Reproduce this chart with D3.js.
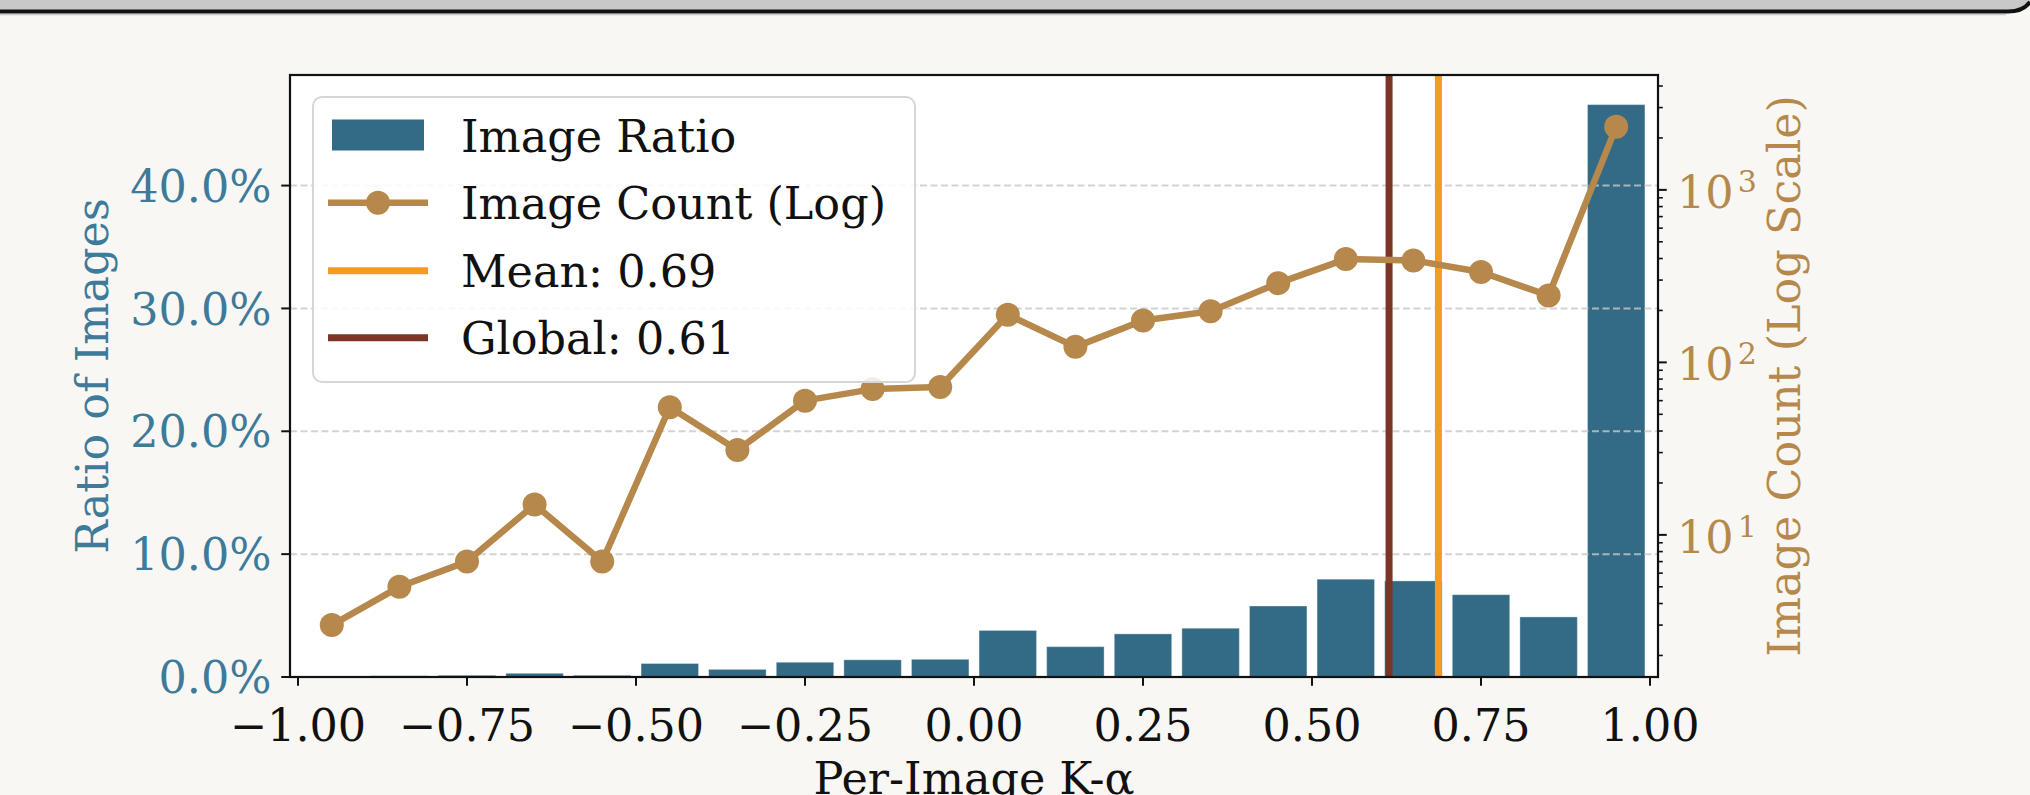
<!DOCTYPE html>
<html><head><meta charset="utf-8">
<script src="https://cdn.jsdelivr.net/npm/d3@7"></script>
<style>
html,body{margin:0;padding:0;background:#f8f7f3;overflow:hidden;width:2030px;height:795px;}
svg{display:block;}
text{font-family:"DejaVu Serif",serif;}
</style></head><body>
<svg id="chart" width="2030" height="795"></svg>
<script>
// ---- data ----
const binCenters = [-0.95,-0.85,-0.75,-0.65,-0.55,-0.45,-0.35,-0.25,-0.15,-0.05,0.05,0.15,0.25,0.35,0.45,0.55,0.65,0.75,0.85,0.95];
const imageRatio = [0.0006,0.0010,0.0014,0.0030,0.0014,0.0110,0.0062,0.0120,0.0140,0.0144,0.0379,0.0247,0.0351,0.0397,0.0578,0.0796,0.0782,0.0670,0.0489,0.4659];
const imageCount = [3,5,7,15,7,55,31,60,70,72,189,123,175,198,288,397,390,334,244,2323];
const meanK = 0.687;
const globalK = 0.614;
const xTickValues = [-1,-0.75,-0.5,-0.25,0,0.25,0.5,0.75,1];
const ratioTickValues = [0,0.1,0.2,0.3,0.4];
const countTickValues = [10,100,1000];
const legendLabels = ["Image Ratio","Image Count (Log)","Mean: " + meanK.toFixed(2),"Global: " + globalK.toFixed(2)];

// ---- styling ----
const C = {bar:"#336b87", barText:"#3e7a99", count:"#b6884b", mean:"#f59b25", global:"#7a3526", bg:"#f8f7f3"};
const FS = 44.5;
const L = 290, R = 1658, T = 75, B = 677;

const svg = d3.select("#chart");

// header strip
svg.append("path").attr("d","M0,0 H2030 V2 Q2023,11.5 2008,11.5 H0 Z").attr("fill","#c8c8c8");
svg.append("path").attr("d","M0,11.5 H2008 Q2023,11.5 2030,2").attr("fill","none").attr("stroke","#111").attr("stroke-width",4);
svg.append("path").attr("d","M0,14.5 H2006").attr("fill","none").attr("stroke","#9a9a9a").attr("stroke-width",1.5).attr("opacity",0.5);

// scales
const x = d3.scaleLinear().domain([-1,1]).range([298,1650]);
const yR = d3.scaleLinear().domain([0,0.49]).range([B,T]);
const yC = d3.scaleLog().domain([1.5,4634]).range([B,T]);
const barW = x(0.085) - x(0);

svg.append("defs").append("clipPath").attr("id","clip")
  .append("rect").attr("x",L).attr("y",T).attr("width",R-L).attr("height",B-T);

svg.append("rect").attr("x",L).attr("y",T).attr("width",R-L).attr("height",B-T).attr("fill","#fff");

const plot = svg.append("g").attr("clip-path","url(#clip)");

// bars
plot.selectAll("rect.bar").data(binCenters).join("rect").attr("class","bar")
  .attr("x",(d)=>x(d)-barW/2).attr("width",barW)
  .attr("y",(d,i)=>yR(imageRatio[i])).attr("height",(d,i)=>yR(0)-yR(imageRatio[i]))
  .attr("fill",C.bar).attr("stroke","#ffffff").attr("stroke-opacity",0.35).attr("stroke-width",1);

// grid
plot.selectAll("line.grid").data(ratioTickValues.filter(v=>v>0)).join("line").attr("class","grid")
  .attr("x1",L).attr("x2",R).attr("y1",d=>yR(d)).attr("y2",d=>yR(d))
  .attr("stroke","#c8c8c8").attr("stroke-opacity",0.8).attr("stroke-width",2).attr("stroke-dasharray","7,3.5");

// vertical lines
[[globalK,C.global],[meanK,C.mean]].forEach(([v,c])=>{
  plot.append("line").attr("x1",x(v)).attr("x2",x(v)).attr("y1",T).attr("y2",B)
    .attr("stroke",c).attr("stroke-width",7);
});

// count line
const line = d3.line().x((d)=>x(d)).y((d,i)=>yC(imageCount[i]));
plot.append("path").datum(binCenters).attr("d",line).attr("fill","none")
  .attr("stroke",C.count).attr("stroke-width",6.5).attr("stroke-linejoin","round");
plot.selectAll("circle.pt").data(binCenters).join("circle").attr("class","pt")
  .attr("cx",d=>x(d)).attr("cy",(d,i)=>yC(imageCount[i])).attr("r",12).attr("fill",C.count);

// spines
svg.append("rect").attr("x",L).attr("y",T).attr("width",R-L).attr("height",B-T)
  .attr("fill","none").attr("stroke","#111").attr("stroke-width",2.2);

// x axis
const xa = svg.append("g");
xTickValues.forEach(v=>{
  xa.append("line").attr("x1",x(v)).attr("x2",x(v)).attr("y1",B).attr("y2",B+8.75).attr("stroke","#111").attr("stroke-width",2);
});
xa.selectAll("text").data(xTickValues).join("text")
  .attr("x",d=>x(d)).attr("y",741).attr("text-anchor","middle").attr("font-size",FS).attr("fill","#111")
  .text(d=>d3.format(".2f")(d));

// left axis
const la = svg.append("g");
ratioTickValues.forEach(v=>{
  la.append("line").attr("x1",L-8.75).attr("x2",L).attr("y1",yR(v)).attr("y2",yR(v)).attr("stroke","#111").attr("stroke-width",2);
});
la.selectAll("text").data(ratioTickValues).join("text")
  .attr("x",L-18.5).attr("y",d=>yR(d)+16.2).attr("text-anchor","end").attr("font-size",FS).attr("fill",C.barText)
  .text(d=>(d*100).toFixed(1)+"%");

// right axis (log)
const ra = svg.append("g");
const minor = [];
[1,10,100,1000].forEach(dec=>{ for(let k=2;k<=9;k++){ const v=dec*k; if(v>=1.5 && v<=4634) minor.push(v);} });
minor.forEach(v=>{
  ra.append("line").attr("x1",R).attr("x2",R+4.8).attr("y1",yC(v)).attr("y2",yC(v)).attr("stroke","#111").attr("stroke-width",1.6);
});
countTickValues.forEach(v=>{
  ra.append("line").attr("x1",R).attr("x2",R+8.75).attr("y1",yC(v)).attr("y2",yC(v)).attr("stroke","#111").attr("stroke-width",2);
});
countTickValues.forEach(v=>{
  const t = ra.append("text").attr("x",R+19).attr("y",yC(v)+18).attr("font-size",FS).attr("fill",C.count);
  t.append("tspan").text("10");
  t.append("tspan").attr("dy",-16).attr("dx",4).attr("font-size",30).text(String(Math.round(Math.log10(v))));
});

// axis labels
svg.append("text").attr("transform","translate(108,376) rotate(-90)").attr("text-anchor","middle")
  .attr("font-size",FS).attr("fill",C.barText).text("Ratio of Images");
svg.append("text").attr("transform","translate(1800,376) rotate(-90)").attr("text-anchor","middle")
  .attr("font-size",FS).attr("fill",C.count).text("Image Count (Log Scale)");
svg.append("text").attr("x",(L+R)/2).attr("y",794).attr("text-anchor","middle")
  .attr("font-size",FS).attr("fill","#111").text("Per-Image K-α");

// legend
const lg = svg.append("g");
lg.append("rect").attr("x",313).attr("y",97).attr("width",602).attr("height",285).attr("rx",9)
  .attr("fill","#fff").attr("fill-opacity",0.85).attr("stroke","#d6d6d6").attr("stroke-width",2);
const rowY = [135,202.7,270.7,337.7];
lg.append("rect").attr("x",332).attr("y",rowY[0]-15.5).attr("width",92).attr("height",31).attr("fill",C.bar);
lg.append("line").attr("x1",328).attr("x2",428).attr("y1",rowY[1]).attr("y2",rowY[1]).attr("stroke",C.count).attr("stroke-width",6.5);
lg.append("circle").attr("cx",378).attr("cy",rowY[1]).attr("r",12).attr("fill",C.count);
lg.append("line").attr("x1",328).attr("x2",428).attr("y1",rowY[2]).attr("y2",rowY[2]).attr("stroke",C.mean).attr("stroke-width",7);
lg.append("line").attr("x1",328).attr("x2",428).attr("y1",rowY[3]).attr("y2",rowY[3]).attr("stroke",C.global).attr("stroke-width",7);
lg.selectAll("text").data(legendLabels).join("text")
  .attr("x",461).attr("y",(d,i)=>rowY[i]+16.5).attr("font-size",FS).attr("fill","#111").text(d=>d);
</script>
</body></html>
